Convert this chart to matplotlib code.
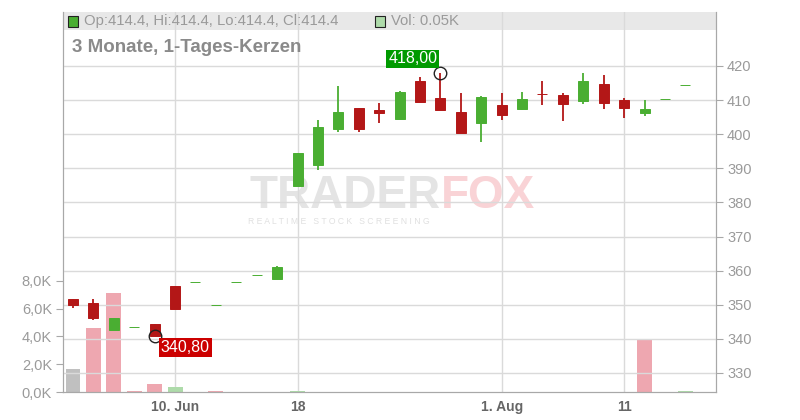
import numpy as np
import matplotlib
matplotlib.use('Agg')
import matplotlib.pyplot as plt
from matplotlib.patches import Rectangle

plt.rcParams['font.family'] = ['Liberation Sans', 'DejaVu Sans']

# daily candles (trading days with turnover only)
opens = [351.7, 350.5, 342.6, 343.4, 344.3, 355.5, 356.8, 350.0, 356.8, 358.6, 357.5,
         384.9, 391.1, 401.6, 407.7, 407.1, 404.5, 415.6, 410.6, 406.5, 403.4,
         408.6, 407.5, 411.9, 411.5, 409.8, 414.7, 410.0, 406.3, 410.2, 414.4]
highs = [351.7, 351.7, 346.0, 343.4, 344.3, 355.5, 356.8, 350.0, 356.8, 358.6, 361.4,
         394.5, 404.2, 414.1, 407.7, 409.1, 412.7, 416.8, 418.0, 412.1, 411.2,
         412.1, 412.4, 415.6, 412.1, 417.9, 417.4, 410.6, 410.1, 410.2, 414.4]
lows = [349.0, 345.5, 342.6, 343.4, 340.8, 348.7, 356.8, 350.0, 356.8, 358.6, 357.5,
        384.9, 389.5, 400.7, 400.7, 403.4, 404.5, 409.5, 407.2, 400.4, 397.8,
        404.3, 407.2, 408.7, 404.0, 408.9, 407.5, 404.8, 405.4, 410.2, 414.4]
closes = [350.0, 346.2, 346.0, 343.4, 340.8, 348.7, 356.8, 350.0, 356.8, 358.6, 361.0,
          394.5, 402.1, 406.5, 401.6, 406.1, 412.4, 409.5, 407.2, 400.4, 410.9,
          405.7, 410.3, 411.7, 408.9, 415.6, 409.2, 407.8, 407.4, 410.2, 414.4]
volumes_k = [1.65, 4.6, 7.1, 0.07, 0.58, 0.36, 0.0, 0.07, 0.0, 0.0, 0.0,
             0.07, 0.0, 0.0, 0.0, 0.0, 0.0, 0.0, 0.0, 0.0, 0.0,
             0.0, 0.0, 0.0, 0.0, 0.0, 0.0, 0.0, 3.8, 0.0, 0.05]

xtick_pos = [5, 11, 21, 27]
xtick_labels = ['10. Jun', '18', '1. Aug', '11']
price_ticks = [330, 340, 350, 360, 370, 380, 390, 400, 410, 420]
vol_ticks = [0, 2, 4, 6, 8]

GREEN = '#4aae32'
RED = '#b31717'
GRID = '#dadada'
AXC = '#a8a8a8'
TXT = '#9a9a9a'

n = len(closes)
x = np.arange(n)
o = np.array(opens); c = np.array(closes); h = np.array(highs); l = np.array(lows)

fig = plt.figure(figsize=(8, 4.2), dpi=100)
axv = fig.add_axes([63 / 800, 28 / 420, (716 - 63) / 800, 380 / 420])
ax = axv.twinx()

# watermark (behind everything)
axv.text(441 / 800, 1 - 208 / 420, 'TRADER', color='#e4e4e4', fontsize=33, fontweight='bold',
         ha='right', va='baseline', transform=fig.transFigure, zorder=0.5)
axv.text(441 / 800, 1 - 208 / 420, 'FOX', color='#f9d3d6', fontsize=33, fontweight='bold',
         ha='left', va='baseline', transform=fig.transFigure, zorder=0.5)
axv.text(339 / 800, 1 - 221 / 420, 'R E A L T I M E   S T O C K   S C R E E N I N G', color='#e0e0e0',
         fontsize=6.2, ha='center', va='center', transform=fig.transFigure, zorder=0.5)

# volume bars
vcols = ['#c0c0c0']
for i in range(1, n):
    vcols.append('#aedbaa' if c[i] > c[i - 1] else '#eea7b0')
axv.bar(x, volumes_k, width=0.73, color=vcols, zorder=2)
axv.set_ylim(0, 380 / 13.9)
axv.set_xlim(-0.49, 31.5)
axv.set_yticks(vol_ticks)
axv.yaxis.set_major_formatter(matplotlib.ticker.FuncFormatter(lambda v, p: ('%.1fK' % v).replace('.', ',')))

# header band + grid
axv.add_patch(Rectangle((0, 362 / 380), 1, 18 / 380, transform=axv.transAxes,
                        facecolor='#e8e8e8', edgecolor='none', zorder=0))
for xp in xtick_pos:
    axv.axvline(xp, color=GRID, lw=1, zorder=1)
axv.set_xticks(xtick_pos)
axv.set_xticklabels(xtick_labels, fontweight='bold', color='#666666', fontsize=10)

# price candles
ax.set_ylim(420 - 326 / 3.41, 420 + 54 / 3.41)
for pt in price_ticks:
    ax.axhline(pt, color=GRID, lw=1, zorder=1)
up = c >= o
cols = np.where(up, GREEN, RED)
ax.vlines(x, l, h, colors=cols, lw=1.3, zorder=3)
ax.bar(x, np.abs(c - o), bottom=np.minimum(o, c), width=0.49, color=cols,
       edgecolor=cols, linewidth=0.7, zorder=4)
ax.set_yticks(price_ticks)

# high / low markers
ih = int(np.argmax(h)); il = int(np.argmin(l))
ax.plot([ih, il], [h[ih], l[il]], 'o', ms=9, mfc='none', mec='#222222', mew=1, zorder=5)
ax.annotate(('%.2f' % h[ih]).replace('.', ','), xy=(ih, h[ih]), xytext=(-20, 10),
            textcoords='offset points', ha='center', va='center', color='white', fontsize=11.5,
            bbox=dict(boxstyle='square,pad=0.12', fc='#009a00', ec='none'), zorder=6)
ax.annotate(('%.2f' % l[il]).replace('.', ','), xy=(il, l[il]), xytext=(22, -8),
            textcoords='offset points', ha='center', va='center', color='white', fontsize=11.5,
            bbox=dict(boxstyle='square,pad=0.12', fc='#cc0000', ec='none'), zorder=6)

for a in (ax, axv):
    a.spines['top'].set_visible(False)
    for s in ('left', 'right', 'bottom'):
        a.spines[s].set_color(AXC)
ax.tick_params(axis='y', colors=AXC, labelcolor=TXT, labelsize=10.5, length=5, pad=3)
axv.tick_params(axis='y', colors=AXC, labelcolor=TXT, labelsize=10.5, length=5, pad=3)
axv.tick_params(axis='x', length=0, pad=6)

# header legend
last = n - 1
fig.patches.append(Rectangle((68 / 800, 1 - 27 / 420), 10 / 800, 11 / 420, transform=fig.transFigure,
                             facecolor=GREEN, edgecolor='#222222', lw=0.8))
fig.text(84 / 800, 1 - 21 / 420, 'Op:%.1f, Hi:%.1f, Lo:%.1f, Cl:%.1f' % (o[last], h[last], l[last], c[last]),
         color=TXT, fontsize=10.7, va='center')
fig.patches.append(Rectangle((375 / 800, 1 - 27 / 420), 10 / 800, 11 / 420, transform=fig.transFigure,
                             facecolor='#aedbaa', edgecolor='#222222', lw=0.8))
fig.text(391 / 800, 1 - 21 / 420, 'Vol: %.2fK' % volumes_k[last], color=TXT, fontsize=10.7, va='center')
fig.text(72 / 800, 1 - 47 / 420, '3 Monate, 1-Tages-Kerzen', color='#8a8a8a', fontsize=13.5,
         fontweight='bold', va='center')

axv.patch.set_visible(False)
ax.patch.set_visible(False)

fig.savefig('out.png', dpi=100)
